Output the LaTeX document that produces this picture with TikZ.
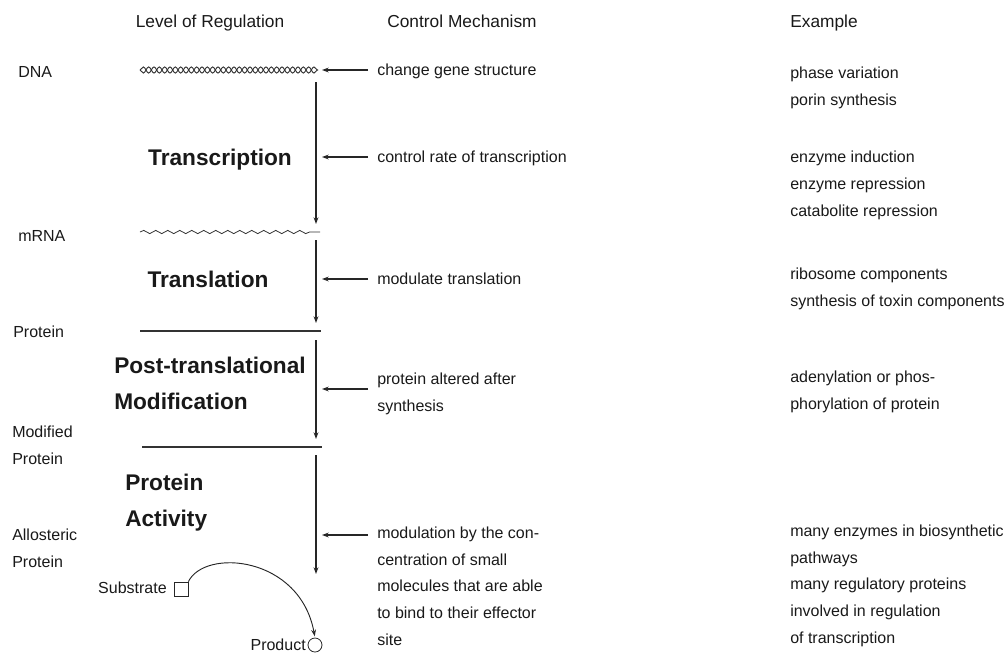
\documentclass[tikz,border=0pt]{standalone}
\usepackage{fontspec}
\setmainfont{Liberation Sans}
\usetikzlibrary{arrows.meta, decorations.pathmorphing}

\begin{document}
\begin{tikzpicture}[x=0.75pt, y=-0.75pt, >={Stealth[length=5pt, width=3.6pt]},
	txt/.style={inner sep=0, align=left, anchor=base west, text=black!90,
		font=\fontsize{12}{20}\selectfont},
	head/.style={txt, anchor=base, font=\fontsize{13}{20}\selectfont},
	stage/.style={txt, font=\fontsize{17}{26.5}\selectfont\bfseries},
	level/.style={line width=0.9pt, black!80},
	flow/.style={->, line width=0.8pt, black!85}
]
	\useasboundingbox (0, 0) rectangle (1007, 658);

	% column heads
	\node[head] (hLevel) at (210, 27) {Level of Regulation};
	\node[head] (hCtrl) at (462, 27) {Control Mechanism};
	\node[head, anchor=base west] (hEx) at (790, 27) {Example};

	% levels (base of a multi-line node = its last line)
	\node[txt] (lDNA) at (18, 77) {DNA};
	\node[txt] (lmRNA) at (18, 241) {mRNA};
	\node[txt] (lProt) at (13, 337) {Protein};
	\node[txt] (lMod) at (12, 464) {Modified\\Protein};
	\node[txt] (lAllo) at (12, 567) {Allosteric\\Protein};

	\coordinate (dnaL) at (140, 70);
	\coordinate (dnaR) at (318, 70);
	\coordinate (rnaL) at (140, 232);
	\coordinate (rnaR) at (320, 232);
	\coordinate (protL) at (140, 331);
	\coordinate (protR) at (321, 331);
	\coordinate (modL) at (142, 447);
	\coordinate (modR) at (322, 447);

	\draw[level, line width=0.7pt, decorate,
		decoration={snake, amplitude=2.3pt, segment length=8pt}] (dnaL) -- (dnaR);
	\draw[level, line width=0.7pt, decorate,
		decoration={snake, amplitude=2.3pt, segment length=8pt, mirror}] (dnaL) -- (dnaR);
	\draw[level, line width=0.6pt, decorate,
		decoration={snake, amplitude=1.2pt, segment length=9pt, post length=4pt}]
		(rnaL) -- (rnaR);
	\draw[level] (protL) -- (protR);
	\draw[level] (modL) -- (modR);

	% vertical flow
	\coordinate (t1) at (316, 82);  \coordinate (b1) at (316, 224);
	\coordinate (t2) at (316, 240); \coordinate (b2) at (316, 323);
	\coordinate (t3) at (316, 340); \coordinate (b3) at (316, 439);
	\coordinate (t4) at (316, 455); \coordinate (b4) at (316, 574);
	\draw[flow] (t1) -- (b1);
	\draw[flow] (t2) -- (b2);
	\draw[flow] (t3) -- (b3);
	\draw[flow] (t4) -- (b4);

	\node[stage, anchor=base] (sTrsc) at (220, 165) {Transcription};
	\node[stage, anchor=base] (sTrsl) at (208, 287) {Translation};
	\node[stage] (sPost) at (114, 409) {Post-translational\\Modification};
	\node[stage] (sAct) at (125, 526) {Protein\\Activity};

	% control mechanisms
	\node[txt] (c1) at (377, 75) {change gene structure};
	\node[txt] (c2) at (377, 162) {control rate of transcription};
	\node[txt] (c3) at (377, 284) {modulate translation};
	\node[txt] (c4) at (377, 411) {protein altered after\\synthesis};
	\node[txt] (c5) at (377, 645) {modulation by the con-\\centration of small\\molecules that are able\\to bind to their effector\\site};

	\foreach \k/\y in {1/70, 2/157, 3/279, 4/389, 5/535} {
		\coordinate (a\k) at (368, \y);
		\coordinate (e\k) at (322, \y);
		\draw[flow] (a\k) -- (e\k);
	}

	% examples
	\node[txt] (x1) at (790, 105) {phase variation\\porin synthesis};
	\node[txt] (x2) at (790, 216) {enzyme induction\\enzyme repression\\catabolite repression};
	\node[txt] (x3) at (790, 306) {ribosome components\\synthesis of toxin components};
	\node[txt] (x4) at (790, 409) {adenylation or phos-\\phorylation of protein};
	\node[txt] (x5) at (790, 643) {many enzymes in biosynthetic\\pathways\\many regulatory proteins\\involved in regulation\\of transcription};

	% substrate -> product
	\node[draw, black!85, line width=0.6pt, minimum size=10.5pt, inner sep=0] (sub) at (181, 589) {};
	\node[draw, black!85, line width=0.6pt, circle, minimum size=10.5pt, inner sep=0] (prod) at (315, 645) {};
	\node[txt, anchor=base east] (subT) at (167, 593) {Substrate};
	\node[txt, anchor=base east] (prodT) at (306, 650) {Product};
	\draw[flow, line width=0.7pt, shorten >=1pt]
		(sub.north east) .. controls (205, 548) and (300, 556) .. (prod.north);

\end{tikzpicture}
\end{document}
